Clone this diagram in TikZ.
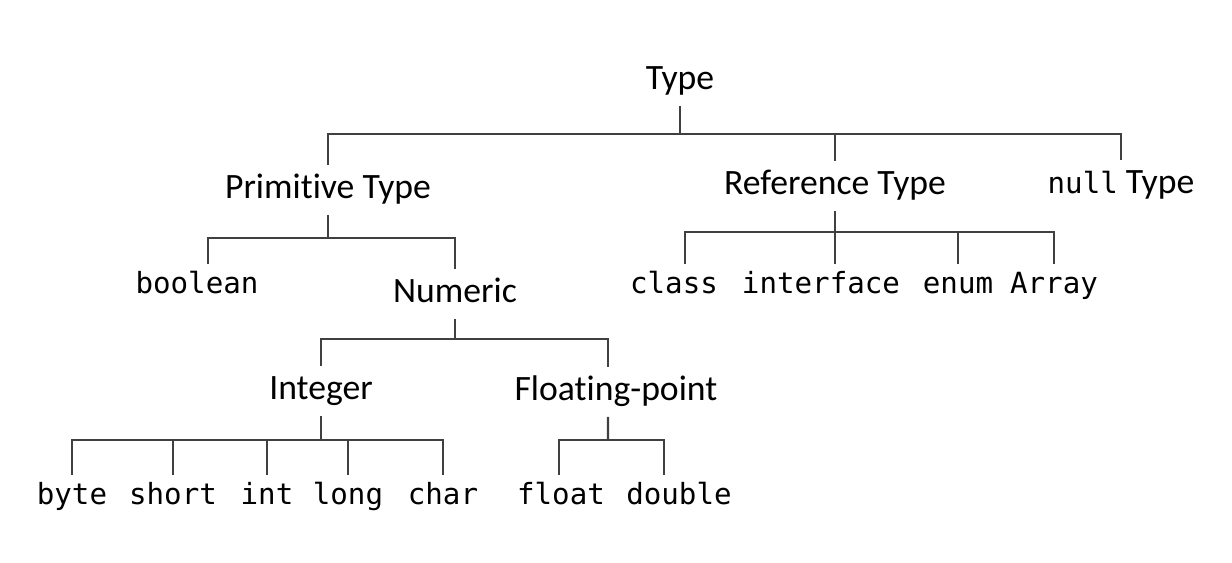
\documentclass[tikz,border=0pt]{standalone}
\usepackage{fontspec}
\setmainfont{Carlito}[Ligatures=NoCommon]
\newfontfamily\codefont{DejaVu Sans Mono}
\usetikzlibrary{positioning}

\tikzset{
  kind/.style={font=\fontsize{20.3}{24}\selectfont, inner xsep=0pt, inner ysep=4pt, text height=15pt, text depth=5pt, yshift=-1.7pt},
  leaf/.style={font=\fontsize{16.6}{20}\codefont, inner xsep=0pt, inner ysep=4pt, text height=12.5pt, text depth=4pt, yshift=-1.7pt},
  branch/.style={draw=black!75, line width=1.25pt},
}

\begin{document}
\begin{tikzpicture}[x=0.02cm, y=-0.02cm]
    \useasboundingbox (0,0) rectangle (1232,562);

    % type levels
    \node[kind] (type) at (680,78) {Type};
    \node[kind] (prim) at (328,187) {Primitive Type};
    \node[kind] (ref) at (835,183) {Reference Type};
    \node[kind] (null) at (1121,182) {{\fontsize{16.6}{20}\codefont null} Type};
    \node[leaf] (bool) at (197,283) {boolean};
    \node[kind] (num) at (455,291) {Numeric};
    \node[kind] (integer) at (321,388) {Integer};
    \node[kind] (flt) at (616,389) {Floating-point};

    % junctions
    \coordinate (jtype) at (680,134);
    \coordinate (jprim) at (328,238);
    \coordinate (jref) at (835,232);
    \coordinate (jnum) at (455,339);
    \coordinate (jint) at (321,440);
    \coordinate (jflt) at (608,440);

    \draw[branch] (type) -- (jtype);
    \foreach \c in {prim, ref, null}
        \draw[branch] (jtype) -| (\c.north);

    \draw[branch] (prim) -- (jprim);
    \draw[branch] (jprim) -| ([xshift=6.3pt]bool.north);
    \draw[branch] (jprim) -| (num.north);

    % reference kinds
    \node[leaf] (class) at (674,283) {class};
    \node[leaf] (iface) at (821,283) {interface};
    \node[leaf] (enum) at (958,283) {enum};
    \node[leaf] (array) at (1054,283) {Array};
    \draw[branch] (ref) -- (jref);
    \draw[branch] (jref) -| ([xshift=6.3pt]class.north);
    \draw[branch] (jref) -| ([xshift=8pt]iface.north);
    \draw[branch] (jref) -| (enum.north);
    \draw[branch] (jref) -| (array.north);

    % numeric
    \draw[branch] (num) -- (jnum);
    \draw[branch] (jnum) -| (integer.north);
    \draw[branch] (jnum) -| ([xshift=-4.5pt]flt.north);

    \draw[branch] (integer) -- (jint);
    \foreach \n/\x in {byte/72, short/173, int/267, long/348, char/443} {
        \node[leaf] (\n) at (\x,494) {\n};
        \draw[branch] (jint) -| (\n.north);
    }

    \node[leaf] (float) at (561,494) {float};
    \node[leaf] (double) at (679,494) {double};
    \draw[branch] ([xshift=-4.5pt]flt.south) -- (jflt);
    \draw[branch] (jflt) -| ([xshift=-1pt]float.north);
    \draw[branch] (jflt) -| ([xshift=-8.5pt]double.north);
\end{tikzpicture}
\end{document}
